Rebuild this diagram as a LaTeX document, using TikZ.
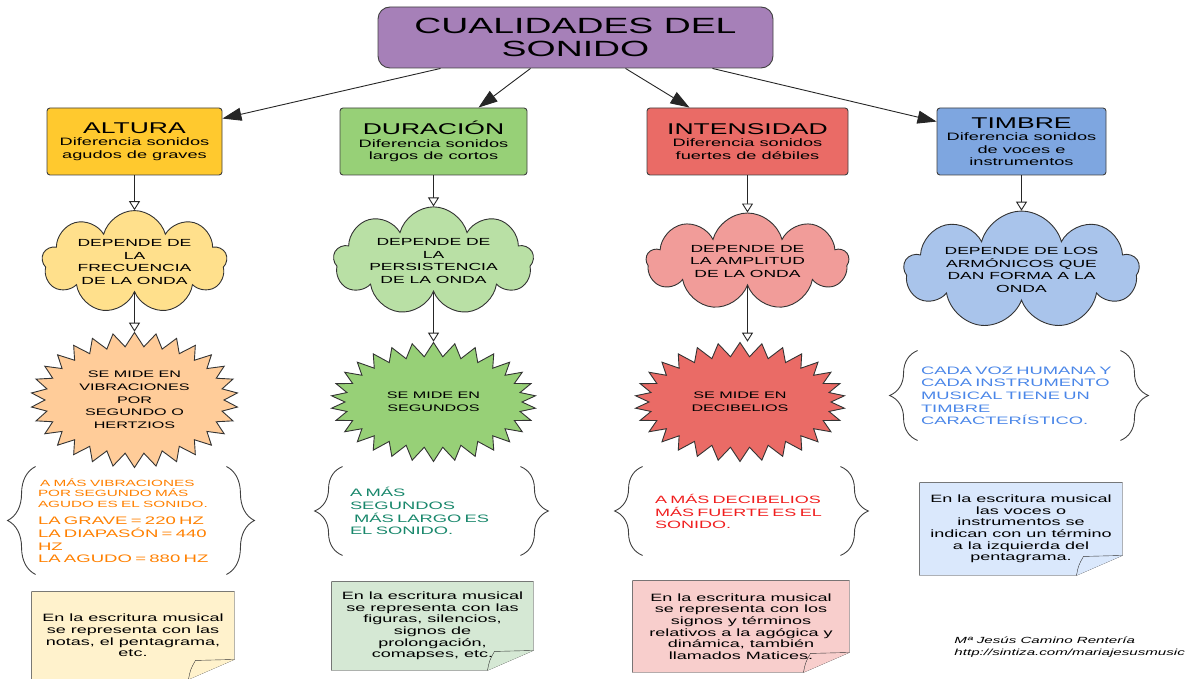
\documentclass[tikz,border=0pt]{standalone}
\usepackage{fontspec}
\setmainfont{Liberation Sans}[FakeStretch=1.7]
\usetikzlibrary{shapes.symbols,arrows.meta,decorations.pathreplacing,backgrounds}

\definecolor{lilac}{HTML}{A680B8}
\definecolor{altbox}{HTML}{FFC92E}
\definecolor{altpuff}{HTML}{FFE08C}
\definecolor{altburst}{HTML}{FFCC99}
\definecolor{altsheet}{HTML}{FFF2CC}
\definecolor{altink}{HTML}{FF8000}
\definecolor{durbox}{HTML}{97D077}
\definecolor{durpuff}{HTML}{B9E0A5}
\definecolor{dursheet}{HTML}{D5E8D4}
\definecolor{durink}{HTML}{18876B}
\definecolor{intbox}{HTML}{EA6B66}
\definecolor{intpuff}{HTML}{F19C99}
\definecolor{intsheet}{HTML}{F8CECC}
\definecolor{intink}{HTML}{F01E1E}
\definecolor{timbox}{HTML}{7EA6E0}
\definecolor{timpuff}{HTML}{A9C4EB}
\definecolor{timsheet}{HTML}{DAE8FC}
\definecolor{timink}{HTML}{4A86E8}

\newcommand{\fs}[2]{\fontsize{#1}{#2}\selectfont}
% note with a folded corner, drawn behind the node
\newcommand{\dogear}[2]{%
  \begin{scope}[on background layer]
    \path[sheet,fill=#2] (#1.north west) -- (#1.north east) -- ([yshift=20pt]#1.south east)
      -- ([xshift=-46pt]#1.south east) -- (#1.south west) -- cycle;
    \path[sheet,fill=#2] ([xshift=-46pt]#1.south east) .. controls ([xshift=-44pt,yshift=10pt]#1.south east)
      .. ([xshift=-39pt,yshift=19pt]#1.south east) -- ([yshift=20pt]#1.south east);
  \end{scope}}

\begin{document}
\begin{tikzpicture}[x=1pt,y=-1pt,line width=0.9pt,
    head/.style={draw=black!75,rounded corners=3pt,minimum height=67pt,align=center,inner sep=0pt,
      font=\fs{10.7}{12.5}},
    puff/.style={cloud,cloud puffs=9,cloud ignores aspect,draw=black!80,align=center,inner sep=0pt,
      font=\fs{10.3}{12.8}},
    burst/.style={starburst,starburst points=30,starburst point height=14pt,random starburst=0,
      draw=black!80,align=center,inner sep=0pt,font=\fs{9.5}{12.7}},
    zone/.style={inner ysep=0pt,align=left},
    paper/.style={align=center,inner sep=0pt,font=\fs{10.6}{11.6}},
    sheet/.style={draw=black!80},
    feed/.style={draw=black!85,-{Triangle[length=19pt,width=13pt]}},
    drop/.style={draw=black!85,-{Triangle[length=9pt,width=11pt,fill=white]}},
    curly/.style={draw=black!75,decorate,decoration={brace,amplitude=28pt}}]
    \useasboundingbox (0,0) rectangle (1195,679);

    \node[draw=black!75,fill=lilac,rounded corners=12pt,minimum width=395pt,minimum height=61pt,
      align=center,font=\fs{22}{23}] (title) at (575.5,37.5) {CUALIDADES DEL\\SONIDO};

    \node[head,fill=altbox,minimum width=175pt] (alt) at (134.5,141.5)
      {\fs{15.6}{12.5}ALTURA\\Diferencia sonidos\\agudos de graves};
    \node[head,fill=durbox,minimum width=187pt] (dur) at (433.5,141.5)
      {\fs{15.6}{12.5}DURACIÓN\\Diferencia sonidos\\largos de cortos};
    \node[head,fill=intbox,minimum width=201pt] (int) at (747.5,141.5)
      {\fs{15.6}{12.5}INTENSIDAD\\Diferencia sonidos\\fuertes de débiles};
    \node[head,fill=timbox,minimum width=169pt] (tim) at (1021.5,141.5)
      {\fs{15.6}{12.5}TIMBRE\\Diferencia sonidos\\de voces e\\instrumentos};

    \path[feed] ([xshift=-135pt]title.south) to ([yshift=-11pt]alt.north east);
    \path[feed] ([xshift=-45pt]title.south) to ([xshift=45pt]dur.north);
    \path[feed] ([xshift=50pt]title.south) to ([xshift=-58pt]int.north);
    \path[feed] ([xshift=137pt]title.south) to ([yshift=-14pt]tim.north west);

    \node[puff,fill=altpuff,minimum width=185pt,minimum height=97pt] (altcloud) at (134.5,262)
      {DEPENDE DE\\LA\\FRECUENCIA\\DE LA ONDA};
    \node[puff,fill=durpuff,minimum width=200pt,minimum height=95pt] (durcloud) at (433.5,261)
      {DEPENDE DE\\LA\\PERSISTENCIA\\DE LA ONDA};
    \node[puff,fill=intpuff,minimum width=202pt,minimum height=97pt] (intcloud) at (747.5,261.5)
      {DEPENDE DE\\LA AMPLITUD\\DE LA ONDA};
    \node[puff,fill=timpuff,minimum width=235pt,minimum height=88pt] (timcloud) at (1021.5,270)
      {DEPENDE DE LOS\\ARMÓNICOS QUE\\DAN FORMA A LA\\ONDA};

    \path[drop] (alt) to (altcloud);
    \path[drop] (dur) to (durcloud);
    \path[drop] (int) to (intcloud);
    \path[drop] (tim) to (timcloud);

    \node[burst,fill=altburst,minimum width=207pt,minimum height=135pt] (altstar) at (134.5,400)
      {SE MIDE EN\\VIBRACIONES\\POR\\SEGUNDO O\\HERTZIOS};
    \node[burst,fill=durbox,minimum width=205pt,minimum height=119pt] (durstar) at (433.5,402)
      {SE MIDE EN\\SEGUNDOS};
    \node[burst,fill=intbox,minimum width=210pt,minimum height=119pt] (intstar) at (740,402)
      {SE MIDE EN\\DECIBELIOS};

    \path[drop] (altcloud) to (altstar);
    \path[drop] (durcloud) to (durstar);
    \path[drop] (intcloud) to (intcloud |- intstar.north);

    % braces
    \node[zone,text=altink,text width=186pt,minimum height=107pt,inner xsep=2pt] (altzone) at (131,520.5)
      {\fs{9}{10.5}\hspace*{2pt}A MÁS VIBRACIONES\\POR SEGUNDO MÁS\\AGUDO ES EL SONIDO.\par
       \vspace{5pt}\fs{10.9}{12.8}LA GRAVE = 220 HZ\\LA DIAPASÓN = 440\\HZ\\LA AGUDO = 880 HZ};
    \node[zone,text=durink,text width=163pt,minimum height=88pt,inner xsep=7pt] (durzone) at (431.5,511)
      {\fs{10.8}{12.8}A MÁS\\SEGUNDOS\\\hspace*{4pt}MÁS LARGO ES\\EL SONIDO.};
    \node[zone,text=intink,text width=173pt,minimum height=88pt,inner xsep=12pt] (intzone) at (741.5,511)
      {\fs{10.6}{13}A MÁS DECIBELIOS\\MÁS FUERTE ES EL\\SONIDO.};
    \node[zone,text=timink,text width=196pt,minimum height=89pt,inner xsep=3pt] (timzone) at (1019,395.5)
      {\fs{10.8}{12.8}CADA VOZ HUMANA Y\\CADA INSTRUMENTO\\MUSICAL TIENE UN\\TIMBRE\\CARACTERÍSTICO.};

    \path[curly] (altzone.south west) -- (altzone.north west);
    \path[curly] (altzone.north east) -- (altzone.south east);
    \path[curly] (durzone.south west) -- (durzone.north west);
    \path[curly] (durzone.north east) -- (durzone.south east);
    \path[curly] (intzone.south west) -- (intzone.north west);
    \path[curly] (intzone.north east) -- (intzone.south east);
    \path[curly] (timzone.south west) -- (timzone.north west);
    \path[curly] (timzone.north east) -- (timzone.south east);

    % notes
    \node[paper,minimum width=202pt,minimum height=87pt] (altnote) at (133,635.5)
      {En la escritura musical\\se representa con las\\notas, el pentagrama,\\etc.};
    \node[paper,minimum width=201pt,minimum height=88pt] (durnote) at (432.5,626)
      {En la escritura musical\\se representa con las\\figuras, silencios,\\signos de\\prolongación,\\comapses, etc.};
    \node[paper,minimum width=216pt,minimum height=91pt] (intnote) at (741,626.5)
      {En la escritura musical\\se representa con los\\signos y términos\\relativos a la agógica y\\dinámica, también\\llamados Matices.};
    \node[paper,minimum width=202pt,minimum height=92pt] (timnote) at (1021,529)
      {En la escritura musical\\las voces o\\instrumentos se\\indican con un término\\a la izquierda del\\pentagrama.};
    \dogear{altnote}{altsheet}
    \dogear{durnote}{dursheet}
    \dogear{intnote}{intsheet}
    \dogear{timnote}{timsheet}

    \node[align=left,anchor=west,inner sep=0pt,font=\fs{8.9}{11.5}\itshape] (sign) at (954,647)
      {Mª Jesús Camino Rentería\\http://sintiza.com/mariajesusmusic};
\end{tikzpicture}
\end{document}
